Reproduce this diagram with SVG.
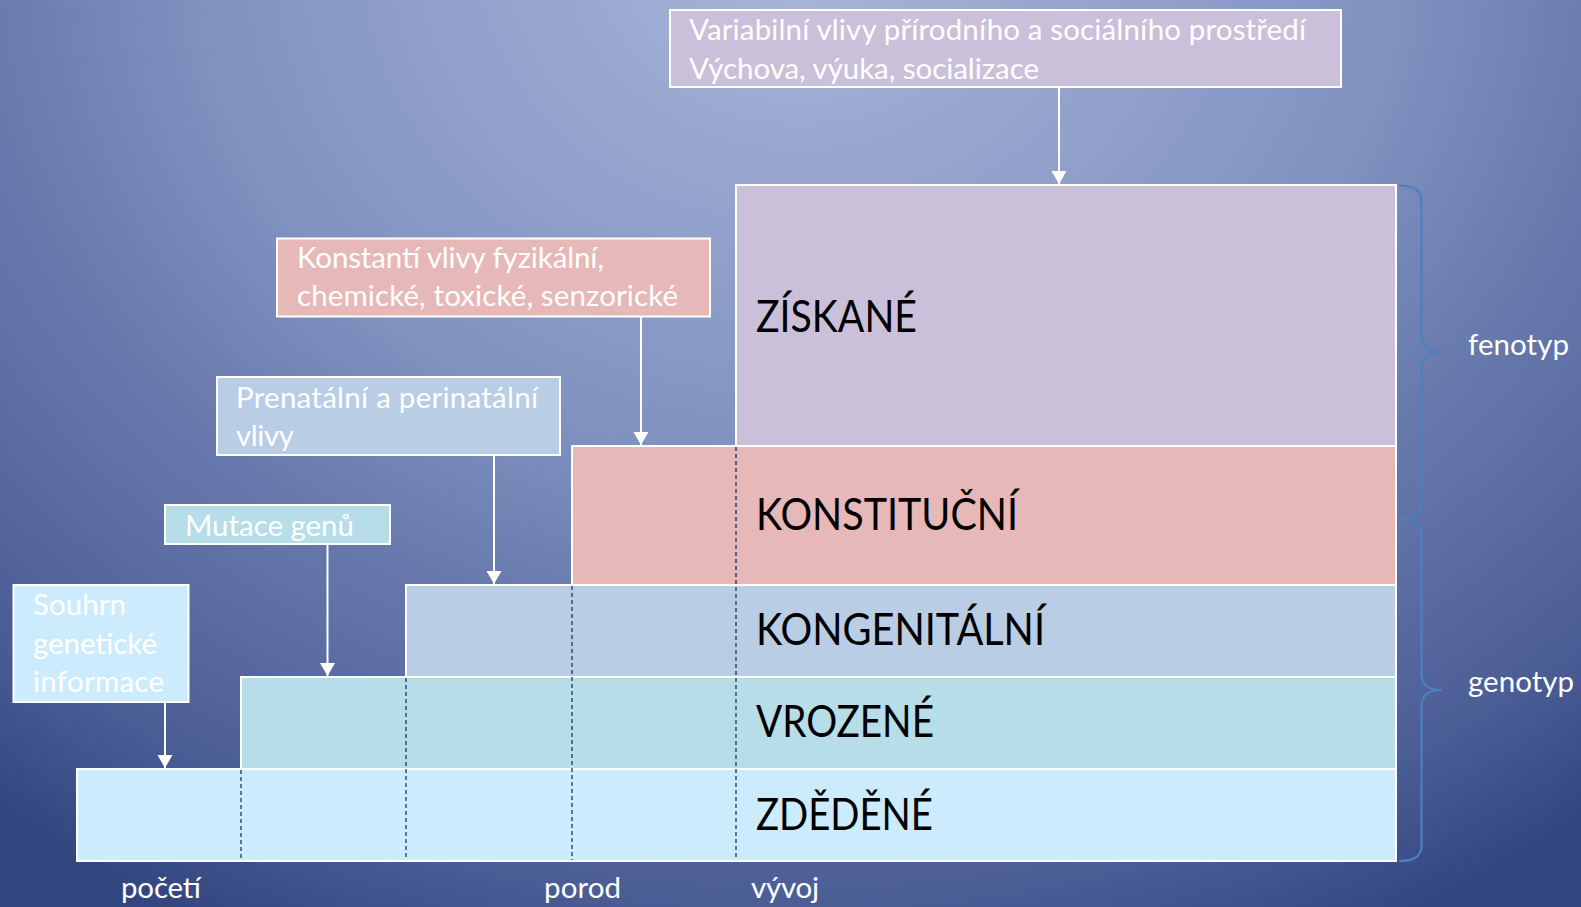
<svg xmlns="http://www.w3.org/2000/svg" width="1581" height="907" viewBox="0 0 1581 907">
<defs>
<radialGradient id="bg" gradientUnits="userSpaceOnUse" cx="800" cy="-50" r="1100" gradientTransform="translate(800 -50) scale(1.182 1) translate(-800 50)">
<stop offset="0" stop-color="#AAB6DA"/>
<stop offset="0.46" stop-color="#8092C0"/>
<stop offset="0.615" stop-color="#6A7CAE"/>
<stop offset="0.87" stop-color="#4B5D95"/>
<stop offset="1" stop-color="#31457F"/>
</radialGradient>
<marker id="ah" markerUnits="userSpaceOnUse" markerWidth="14" markerHeight="16" refX="13" refY="7.5" orient="auto">
<path d="M0,0 L13,7.5 L0,15 z" fill="#FFFFFF"/>
</marker>
<style>
.blk{stroke:#FFFFFF;stroke-width:2}
.lav{fill:#CBC0DA}.pink{fill:#E6B8B7}.steel{fill:#B9CDE5}.teal{fill:#B7DDE8}.sky{fill:#CCEBFD}
.big{font-family:Lato,"Open Sans","Liberation Sans",sans-serif;font-size:44px;fill:#000000}
.sm{font-family:Lato,"Open Sans","Liberation Sans",sans-serif;font-size:29.5px;fill:#FFFFFF}
.dash{stroke:#1F3562;stroke-width:1.3;stroke-dasharray:4 3;fill:none}
.conn{stroke:#FFFFFF;stroke-width:2;fill:none;marker-end:url(#ah)}
.brace{stroke:#4A80C0;stroke-width:2.2;fill:none}
</style>
</defs>
<rect x="0" y="0" width="1581" height="907" fill="url(#bg)"/>

<g id="block-ziskane">
<rect class="blk lav" x="736" y="185" width="660" height="261"/>
<text class="big" x="756" y="332" textLength="161" lengthAdjust="spacingAndGlyphs">ZÍSKANÉ</text>
</g>
<g id="block-konstitucni">
<rect class="blk pink" x="572" y="446" width="824" height="139"/>
<text class="big" x="756" y="530" textLength="262" lengthAdjust="spacingAndGlyphs">KONSTITUČNÍ</text>
</g>
<g id="block-kongenitalni">
<rect class="blk steel" x="406" y="585" width="990" height="92"/>
<text class="big" x="756" y="645" textLength="289" lengthAdjust="spacingAndGlyphs">KONGENITÁLNÍ</text>
</g>
<g id="block-vrozene">
<rect class="blk teal" x="241" y="677" width="1155" height="92"/>
<text class="big" x="756" y="737" textLength="178" lengthAdjust="spacingAndGlyphs">VROZENÉ</text>
</g>
<g id="block-zdedene">
<rect class="blk sky" x="77" y="769" width="1319" height="92"/>
<text class="big" x="756" y="830" textLength="177" lengthAdjust="spacingAndGlyphs">ZDĚDĚNÉ</text>
</g>

<g id="dividers">
<line class="dash" x1="241" y1="770" x2="241" y2="860"/>
<line class="dash" x1="406" y1="678" x2="406" y2="860"/>
<line class="dash" x1="572" y1="586" x2="572" y2="860"/>
<line class="dash" x1="736" y1="447" x2="736" y2="860"/>
</g>

<g id="box-variabilni">
<rect class="blk lav" x="670" y="10" width="671" height="77"/>
<text class="sm" x="689" y="40" textLength="617">Variabilní vlivy přírodního a sociálního prostředí</text>
<text class="sm" x="689" y="78.5" textLength="350">Výchova, výuka, socializace</text>
</g>
<g id="box-konstanti">
<rect class="blk pink" x="277" y="238.5" width="433" height="78"/>
<text class="sm" x="297" y="267.5" textLength="307">Konstantí vlivy fyzikální,</text>
<text class="sm" x="297" y="306" textLength="381">chemické, toxické, senzorické</text>
</g>
<g id="box-prenatalni">
<rect class="blk steel" x="217" y="377" width="343" height="78"/>
<text class="sm" x="236" y="407.5" textLength="302">Prenatální a perinatální</text>
<text class="sm" x="236" y="446" textLength="58">vlivy</text>
</g>
<g id="box-mutace">
<rect class="blk teal" x="165" y="505" width="225" height="39"/>
<text class="sm" x="185" y="536" textLength="169">Mutace genů</text>
</g>
<g id="box-souhrn">
<rect class="blk sky" x="13.5" y="585" width="175" height="117"/>
<text class="sm" x="33" y="615" textLength="93">Souhrn</text>
<text class="sm" x="33" y="653.5" textLength="124">genetické</text>
<text class="sm" x="33" y="692" textLength="131">informace</text>
</g>

<g id="connectors">
<line class="conn" x1="1059" y1="87" x2="1059" y2="184"/>
<line class="conn" x1="641" y1="317" x2="641" y2="445"/>
<line class="conn" x1="494" y1="455" x2="494" y2="584"/>
<line class="conn" x1="327.5" y1="544" x2="327.5" y2="676"/>
<line class="conn" x1="165" y1="702" x2="165" y2="768"/>
</g>

<g id="brace-fenotyp">
<path class="brace" d="M1399,185.5 C1414,185.5 1421.5,190 1421.5,202 L1421.5,336 C1421.5,346 1428,352 1442,352 C1428,352 1421.5,358 1421.5,368 L1421.5,502 C1421.5,514 1414,518 1399,518"/>
<text class="sm" x="1468" y="355" textLength="101">fenotyp</text>
</g>
<g id="brace-genotyp">
<path class="brace" d="M1399,518 C1414,518 1421.5,522 1421.5,534 L1421.5,674 C1421.5,684 1428,690 1442,690 C1428,690 1421.5,696 1421.5,706 L1421.5,845 C1421.5,857 1414,861 1399,861"/>
<text class="sm" x="1468" y="692" textLength="106">genotyp</text>
</g>

<g id="axis-labels">
<text class="sm" x="121" y="898" textLength="80">početí</text>
<text class="sm" x="544" y="898" textLength="77">porod</text>
<text class="sm" x="751" y="898" textLength="68">vývoj</text>
</g>
</svg>
